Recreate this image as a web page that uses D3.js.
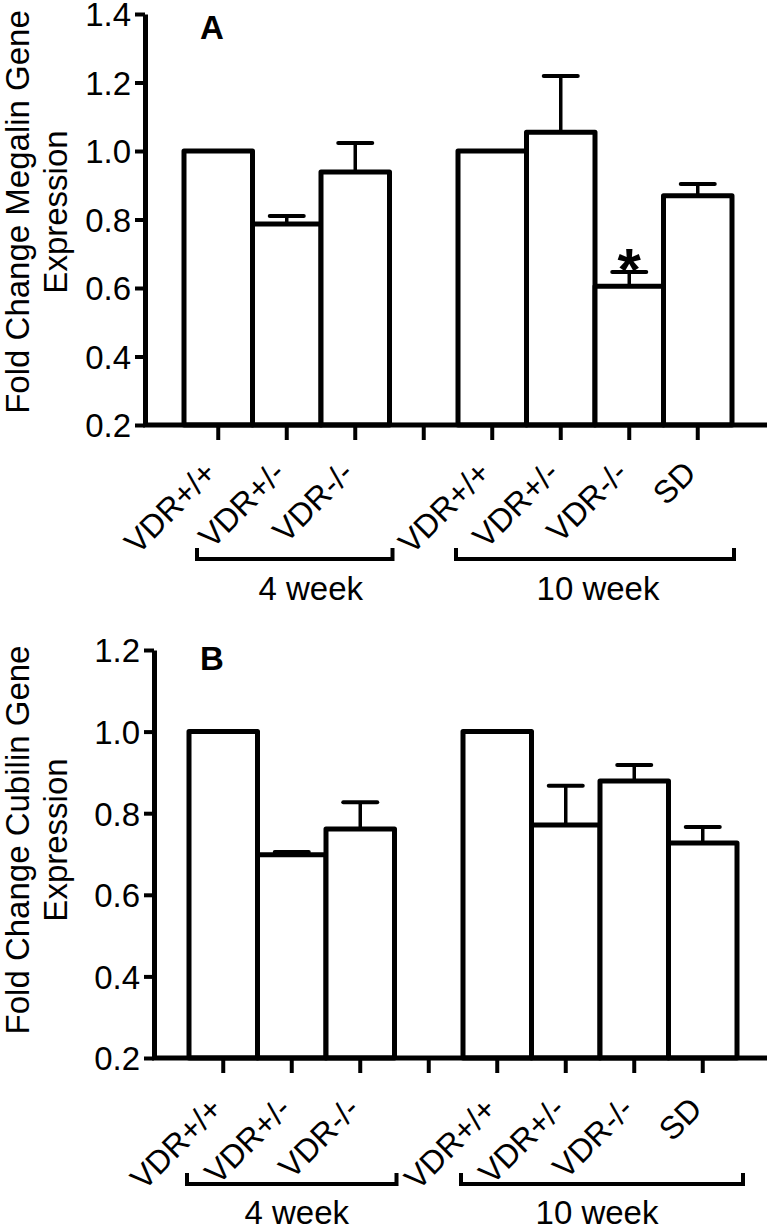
<!DOCTYPE html>
<html>
<head>
<meta charset="utf-8">
<script src="https://cdn.jsdelivr.net/npm/d3@7"></script>
<style>
  body { margin: 0; background: #fff; }
  svg { display: block; }
  text { font-family: Arial, "Liberation Sans", Helvetica, sans-serif; fill: #000; }
</style>
</head>
<body>
<svg id="chart" width="770" height="1226"></svg>
<script>
// Bar slots (4th slot is the empty gap between the two age groups)
const categoryKeys = ['4wk_wt', '4wk_het', '4wk_ko', 'gap', '10wk_wt', '10wk_het', '10wk_ko', '10wk_sd'];
const categoryLabels = ['VDR+/+', 'VDR+/-', 'VDR-/-', '', 'VDR+/+', 'VDR+/-', 'VDR-/-', 'SD'];

// Panel A - megalin
const megalinMean = [1.0, 0.787, 0.939, null, 1.0, 1.055, 0.605, 0.869];
const megalinSem = [0, 0.023, 0.084, null, 0, 0.164, 0.042, 0.035];
const megalinSig = ['', '', '', '', '', '', '*', ''];
const megalinTicks = [0.2, 0.4, 0.6, 0.8, 1.0, 1.2, 1.4];

// Panel B - cubilin
const cubilinMean = [1.0, 0.698, 0.761, null, 1.0, 0.771, 0.879, 0.727];
const cubilinSem = [0, 0.007, 0.066, null, 0, 0.096, 0.039, 0.039];
const cubilinSig = ['', '', '', '', '', '', '', ''];
const cubilinTicks = [0.2, 0.4, 0.6, 0.8, 1.0, 1.2];

const groupLabels = ['4 week', '10 week'];
const groupFrom = [0, 4];
const groupTo = [2, 7];

const svg = d3.select('#chart');

function drawPanel(p) {
    const g = svg.append('g');
    const x = d3.scaleBand().domain(categoryKeys).range([p.bandLeft, p.bandRight]).padding(0);
    const y = d3.scaleLinear()
        .domain([p.ticks[0], p.ticks[p.ticks.length - 1]])
        .range([p.yBottom, p.yTop]);
    const bw = x.bandwidth();
    const y0 = y(p.ticks[0]);

    const rows = categoryKeys.map((k, i) => ({ key: k, mean: p.mean[i], sem: p.sem[i], sig: p.sig[i] }))
        .filter(d => d.mean != null);

    // bars
    g.selectAll('rect.bar').data(rows).join('rect')
        .attr('class', 'bar')
        .attr('x', d => x(d.key))
        .attr('y', d => y(d.mean))
        .attr('width', bw)
        .attr('height', d => y0 - y(d.mean))
        .attr('fill', '#fff')
        .attr('stroke', '#000')
        .attr('stroke-width', 5)
        .attr('stroke-linejoin', 'round');

    // error bars (upper only)
    const withErr = rows.filter(d => d.sem > 0);
    g.selectAll('line.err').data(withErr).join('line')
        .attr('class', 'err')
        .attr('x1', d => x(d.key) + bw / 2)
        .attr('x2', d => x(d.key) + bw / 2)
        .attr('y1', d => y(d.mean))
        .attr('y2', d => y(d.mean + d.sem))
        .attr('stroke', '#000')
        .attr('stroke-width', 3.5);
    g.selectAll('line.cap').data(withErr).join('line')
        .attr('class', 'cap')
        .attr('x1', d => x(d.key) + bw / 2 - 17)
        .attr('x2', d => x(d.key) + bw / 2 + 17)
        .attr('y1', d => y(d.mean + d.sem))
        .attr('y2', d => y(d.mean + d.sem))
        .attr('stroke', '#000')
        .attr('stroke-width', 4)
        .attr('stroke-linecap', 'round');

    // significance marks
    g.selectAll('text.sig').data(rows.filter(d => d.sig)).join('text')
        .attr('class', 'sig')
        .attr('x', d => x(d.key) + bw / 2)
        .attr('y', d => y(d.mean + d.sem) + 18)
        .attr('text-anchor', 'middle')
        .attr('font-size', 60)
        .attr('font-weight', 'bold')
        .text(d => d.sig);

    // y axis
    const yAxis = d3.axisLeft(y).tickValues(p.ticks).tickFormat(d3.format('.1f'))
        .tickSize(10).tickSizeOuter(0).tickPadding(4);
    const ya = g.append('g').attr('transform', `translate(${p.axisX},0)`).call(yAxis);
    ya.attr('font-family', null);
    ya.select('.domain').attr('stroke', '#000').attr('stroke-width', 5);
    ya.selectAll('.tick line').attr('stroke', '#000').attr('stroke-width', 4);
    ya.selectAll('.tick text').attr('font-size', 33).attr('fill', '#000').attr('dy', '0.36em');

    // x axis line
    g.append('line')
        .attr('x1', p.axisX - 2).attr('x2', p.axisRight)
        .attr('y1', y0).attr('y2', y0)
        .attr('stroke', '#000').attr('stroke-width', 5);

    // category ticks (labels drawn separately, rotated)
    const xAxis = d3.axisBottom(x).tickSize(15).tickSizeOuter(0).tickFormat('');
    const xa = g.append('g').attr('transform', `translate(0,${y0})`).call(xAxis);
    xa.select('.domain').remove();
    xa.selectAll('.tick line').attr('stroke', '#000').attr('stroke-width', 4);

    g.selectAll('text.cat').data(categoryKeys.map((k, i) => ({ key: k, label: categoryLabels[i] })).filter(d => d.label))
        .join('text')
        .attr('class', 'cat')
        .attr('text-anchor', 'end')
        .attr('font-size', 32)
        .attr('transform', d => `translate(${x(d.key) + bw / 2 + p.labelDx},${y0 + p.labelDy}) rotate(-45)`)
        .text(d => d.label);

    // group brackets
    groupLabels.forEach((lab, i) => {
        const x1 = x(categoryKeys[groupFrom[i]]) + p.bracketPad[i][0];
        const x2 = x(categoryKeys[groupTo[i]]) + bw + p.bracketPad[i][1];
        g.append('path')
            .attr('d', `M${x1},${p.bracketY - 11}V${p.bracketY}H${x2}V${p.bracketY - 11}`)
            .attr('fill', 'none')
            .attr('stroke', '#000')
            .attr('stroke-width', 4);
        g.append('text')
            .attr('x', (x1 + x2) / 2 + p.groupDx[i])
            .attr('y', p.groupTextY)
            .attr('text-anchor', 'middle')
            .attr('font-size', 33)
            .text(lab);
    });

    // y title (two lines)
    p.title.forEach((line, i) => {
        g.append('text')
            .attr('transform', `translate(${p.titleX[i]},${p.titleCy}) rotate(-90)`)
            .attr('text-anchor', 'middle')
            .attr('font-size', 33)
            .text(line);
    });

    // panel letter
    g.append('text')
        .attr('x', 200).attr('y', p.letterY)
        .attr('font-size', 33)
        .attr('font-weight', 'bold')
        .text(p.letter);
}

drawPanel({
    mean: megalinMean, sem: megalinSem, sig: megalinSig, ticks: megalinTicks,
    axisX: 145, axisRight: 767, bandLeft: 184, bandRight: 732,
    yBottom: 425, yTop: 14, labelDx: 0, labelDy: 50,
    bracketY: 559, bracketPad: [[13, 3], [-2, 2]], groupDx: [16, 3], groupTextY: 600,
    title: ['Fold Change Megalin Gene', 'Expression'], titleX: [29, 67], titleCy: 212,
    letter: 'A', letterY: 39
});

drawPanel({
    mean: cubilinMean, sem: cubilinSem, sig: cubilinSig, ticks: cubilinTicks,
    axisX: 154, axisRight: 767, bandLeft: 189, bandRight: 737,
    yBottom: 1058, yTop: 650, labelDx: 1, labelDy: 53,
    bracketY: 1184, bracketPad: [[-2, 2], [-2, 6]], groupDx: [5, -5], groupTextY: 1224,
    title: ['Fold Change Cubilin Gene', 'Expression'], titleX: [29, 67], titleCy: 840,
    letter: 'B', letterY: 670
});
</script>
</body>
</html>
